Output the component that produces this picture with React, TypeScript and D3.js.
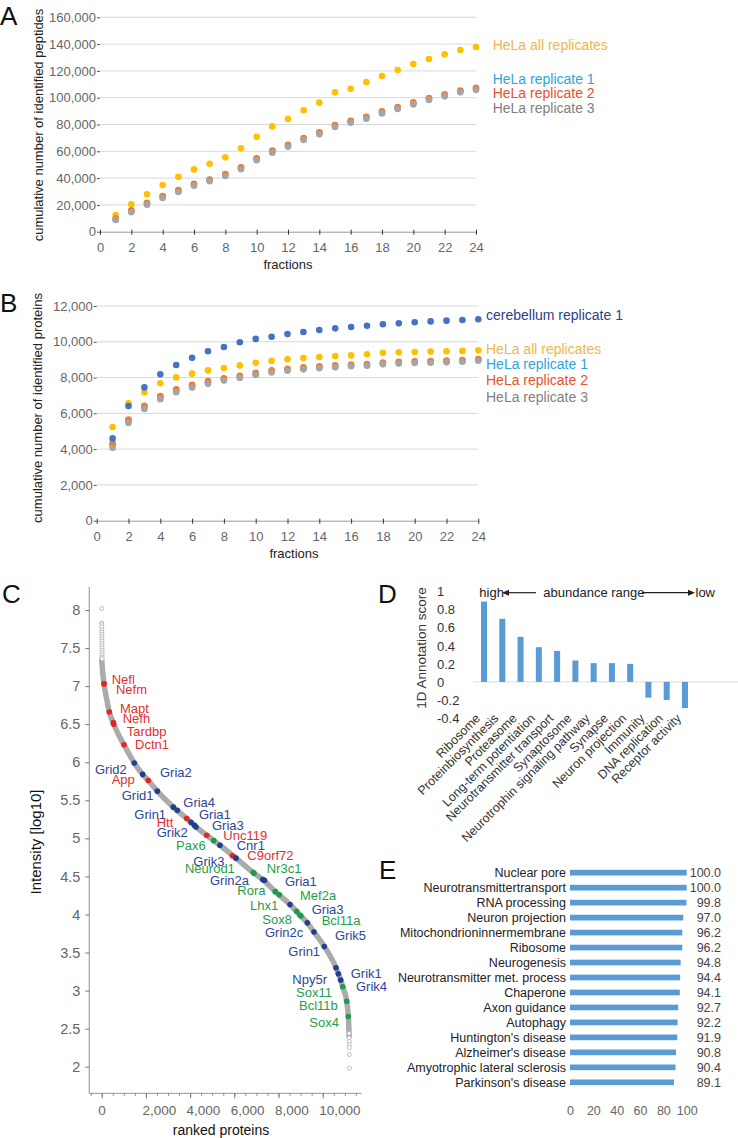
import React, { useRef, useEffect } from 'react';
import * as d3 from 'd3';

const FONT = '"Liberation Sans", Arial, Helvetica, sans-serif';

// ---- A: cumulative identified peptides per fraction
const fractions = [1, 2, 3, 4, 5, 6, 7, 8, 9, 10, 11, 12, 13, 14, 15, 16, 17, 18, 19, 20, 21, 22, 23, 24];
const fractionTicks = [0, 2, 4, 6, 8, 10, 12, 14, 16, 18, 20, 22, 24];
const pepAll = [12500, 20400, 27900, 34800, 41000, 46500, 50700, 55500, 62200, 70900, 78600, 84100, 90600, 96300, 104000, 106700, 111700, 116200, 120700, 125100, 128900, 132400, 135600, 137800];
const pepRep1 = [9500, 15400, 21100, 26100, 30500, 35200, 38500, 42500, 47500, 54200, 60000, 64300, 69300, 73600, 79000, 82200, 85200, 89200, 92500, 95900, 99200, 101900, 104800, 106600];
const pepRep2 = [9900, 15900, 21600, 26600, 31000, 35800, 39000, 43000, 48000, 54800, 60500, 64900, 69900, 74200, 79600, 82800, 85800, 89800, 93100, 96500, 99800, 102500, 105400, 107400];
const pepRep3 = [8700, 14500, 20200, 25100, 29600, 34300, 37600, 41600, 46600, 53300, 59000, 63400, 68400, 72700, 78100, 81300, 84300, 88300, 91600, 95000, 98300, 101000, 104000, 105700];
const pepTicks = [0, 20000, 40000, 60000, 80000, 100000, 120000, 140000, 160000];

// ---- B: cumulative identified proteins per fraction
const protCerebellum = [4600, 6410, 7450, 8180, 8700, 9110, 9470, 9710, 9970, 10160, 10280, 10430, 10550, 10660, 10750, 10830, 10900, 10980, 11030, 11090, 11140, 11180, 11220, 11260];
const protAll = [5240, 6560, 7180, 7680, 8010, 8220, 8400, 8530, 8680, 8830, 8940, 9020, 9090, 9150, 9200, 9240, 9300, 9390, 9410, 9430, 9450, 9470, 9490, 9520];
const protRep1 = [4250, 5580, 6350, 6890, 7270, 7520, 7730, 7900, 8040, 8200, 8350, 8440, 8520, 8580, 8630, 8690, 8720, 8800, 8840, 8870, 8890, 8910, 8940, 9000];
const protRep2 = [4330, 5650, 6420, 6960, 7340, 7590, 7800, 7960, 8100, 8260, 8400, 8490, 8570, 8630, 8680, 8730, 8760, 8840, 8880, 8910, 8930, 8950, 8980, 9040];
const protRep3 = [4080, 5460, 6240, 6790, 7180, 7440, 7660, 7830, 7980, 8140, 8290, 8380, 8460, 8520, 8570, 8630, 8660, 8740, 8780, 8810, 8830, 8850, 8880, 8940];
const protTicks = [0, 2000, 4000, 6000, 8000, 10000, 12000];

// ---- C: ranked protein intensities
const rankCurve = [
  [0, 7.34], [40, 7.2], [104, 7.03], [220, 6.84], [344, 6.66], [525, 6.52], [750, 6.37], [1009, 6.23],
  [1475, 5.99], [1855, 5.84], [2109, 5.76], [2516, 5.62], [3240, 5.41], [3846, 5.26], [4267, 5.15],
  [4751, 5.04], [5353, 4.91], [6077, 4.74], [6860, 4.55], [7285, 4.46], [7855, 4.3], [8520, 4.13],
  [8973, 3.99], [9303, 3.89], [9606, 3.77], [10072, 3.58], [10602, 3.3], [10814, 3.14], [10905, 3.05],
  [11086, 2.86], [11158, 2.66], [11185, 2.5], [11195, 2.4],
];
const topOutliers = [
  [2, 8.02], [3, 7.83], [4, 7.81], [5, 7.78], [6, 7.74], [7, 7.71], [8, 7.68], [9, 7.65], [10, 7.62],
  [11, 7.59], [12, 7.56], [13, 7.53], [14, 7.5], [15, 7.47], [16, 7.44], [17, 7.41], [18, 7.38], [19, 7.36],
];
const bottomOutliers = [[11196, 2.44], [11198, 2.38], [11200, 2.33], [11201, 2.29], [11203, 2.25], [11205, 2.16], [11210, 1.98]];
const markers = [
  { gene: 'Nefl', group: 'red', rank: 104, log10: 7.03 },
  { gene: 'Nefm', group: 'red', rank: 104, log10: 7.03 },
  { gene: 'Mapt', group: 'red', rank: 344, log10: 6.66 },
  { gene: 'Nefh', group: 'red', rank: 525, log10: 6.52 },
  { gene: 'Tardbp', group: 'red', rank: 540, log10: 6.5 },
  { gene: 'Dctn1', group: 'red', rank: 1009, log10: 6.23 },
  { gene: 'Grid2', group: 'blue', rank: 1475, log10: 5.99 },
  { gene: 'Gria2', group: 'blue', rank: 1855, log10: 5.84 },
  { gene: 'App', group: 'red', rank: 2109, log10: 5.76 },
  { gene: 'Grid1', group: 'blue', rank: 2516, log10: 5.62 },
  { gene: 'Gria4', group: 'blue', rank: 3421, log10: 5.37 },
  { gene: 'Grin1', group: 'blue', rank: 3240, log10: 5.41 },
  { gene: 'Gria1', group: 'blue', rank: 4041, log10: 5.21 },
  { gene: 'Htt', group: 'red', rank: 3846, log10: 5.26 },
  { gene: 'Gria3', group: 'blue', rank: 4267, log10: 5.15 },
  { gene: 'Grik2', group: 'blue', rank: 4200, log10: 5.17 },
  { gene: 'Unc119', group: 'red', rank: 4751, log10: 5.04 },
  { gene: 'Pax6', group: 'green', rank: 5068, log10: 4.97 },
  { gene: 'Cnr1', group: 'blue', rank: 5353, log10: 4.91 },
  { gene: 'C9orf72', group: 'red', rank: 5914, log10: 4.77 },
  { gene: 'Grik3', group: 'blue', rank: 6077, log10: 4.74 },
  { gene: 'Neurod1', group: 'green', rank: 6860, log10: 4.55 },
  { gene: 'Nr3c1', group: 'green', rank: 6892, log10: 4.54 },
  { gene: 'Grin2a', group: 'blue', rank: 7285, log10: 4.46 },
  { gene: 'Gria1', group: 'blue', rank: 7366, log10: 4.45 },
  { gene: 'Rora', group: 'green', rank: 7855, log10: 4.3 },
  { gene: 'Mef2a', group: 'green', rank: 8036, log10: 4.26 },
  { gene: 'Lhx1', group: 'green', rank: 8824, log10: 4.04 },
  { gene: 'Gria3', group: 'blue', rank: 8520, log10: 4.13 },
  { gene: 'Sox8', group: 'green', rank: 8973, log10: 3.99 },
  { gene: 'Bcl11a', group: 'green', rank: 9014, log10: 3.98 },
  { gene: 'Grin2c', group: 'blue', rank: 9303, log10: 3.89 },
  { gene: 'Grik5', group: 'blue', rank: 9606, log10: 3.77 },
  { gene: 'Grin1', group: 'blue', rank: 10072, log10: 3.58 },
  { gene: 'Npy5r', group: 'blue', rank: 10602, log10: 3.3 },
  { gene: 'Grik1', group: 'blue', rank: 10706, log10: 3.22 },
  { gene: 'Grik4', group: 'blue', rank: 10814, log10: 3.14 },
  { gene: 'Sox11', group: 'green', rank: 10905, log10: 3.05 },
  { gene: 'Bcl11b', group: 'green', rank: 11086, log10: 2.86 },
  { gene: 'Sox4', group: 'green', rank: 11158, log10: 2.66 },
];
// where each marker's name is written, in data units (rank, log10), same order as markers
const labelAt = [
  [452, 7.09], [647, 6.95], [828, 6.71], [950, 6.57], [1131, 6.41], [1507, 6.24], [-303, 5.91], [2638, 5.86],
  [452, 5.77], [905, 5.56], [3692, 5.47], [1475, 5.32], [4403, 5.32], [2489, 5.21], [4991, 5.17], [2489, 5.08],
  [5502, 5.04], [3362, 4.91], [6109, 4.91], [6588, 4.78], [4145, 4.7], [3769, 4.6], [7466, 4.61], [4900, 4.45],
  [8294, 4.43], [6136, 4.31], [8973, 4.25], [6710, 4.12], [9502, 4.07], [7267, 3.93], [9955, 3.92], [7389, 3.77],
  [10557, 3.72], [8444, 3.52], [8624, 3.15], [11267, 3.23], [11507, 3.06], [8792, 2.97], [8928, 2.8], [9394, 2.58],
];
const rankTicks = [0, 2000, 4000, 6000, 8000, 10000];
const intensityTicks = [2, 2.5, 3, 3.5, 4, 4.5, 5, 5.5, 6, 6.5, 7, 7.5, 8];

// ---- D: 1D annotation enrichment
const annotTerms = ['Ribosome', 'Proteinbiosynthesis', 'Proteasome', 'Long-term potentiation', 'Neurotransmitter transport', 'Synaptosome', 'Neurotrophin signaling pathway', 'Synapse', 'Neuron projection', 'Immunity', 'DNA replication', 'Receptor activity'];
const annotScores = [0.89, 0.7, 0.5, 0.385, 0.344, 0.237, 0.208, 0.208, 0.2, -0.174, -0.2, -0.29];
const annotTicks = [-0.4, -0.2, 0, 0.2, 0.4, 0.6, 0.8, 1];

// ---- E: coverage of pathways
const coverageTerms = ['Nuclear pore', 'Neurotransmittertransport', 'RNA processing', 'Neuron projection', 'Mitochondrioninnermembrane', 'Ribosome', 'Neurogenesis', 'Neurotransmitter met. process', 'Chaperone', 'Axon guidance', 'Autophagy', "Huntington's disease", "Alzheimer's disease", 'Amyotrophic lateral sclerosis', "Parkinson's disease"];
const coverageValues = [100.0, 100.0, 99.8, 97.0, 96.2, 96.2, 94.8, 94.4, 94.1, 92.7, 92.2, 91.9, 90.8, 90.4, 89.1];
const coverageTicks = [0, 20, 40, 60, 80, 100];

const groupColor = { red: '#E52521', blue: '#213F8F', green: '#1B9C4A' };
const groupText = { red: '#E0302F', blue: '#2C4599', green: '#1FA04C' };

function scatterPanel(svg, o) {
  const x = d3.scaleLinear().domain([0, 24]).range(o.xRange);
  const y = d3.scaleLinear().domain([0, o.ticks[o.ticks.length - 1]]).range(o.yRange);

  svg.append('g').selectAll('line').data(o.ticks.filter(t => t > 0)).join('line')
    .attr('x1', o.xRange[0]).attr('x2', o.xRange[1])
    .attr('y1', d => y(d)).attr('y2', d => y(d))
    .attr('stroke', '#d9d9d9').attr('stroke-width', 1);

  const ya = svg.append('g').attr('transform', `translate(${o.xRange[0]},0)`)
    .call(d3.axisLeft(y).tickValues(o.ticks).tickFormat(d3.format(',')).tickSize(3).tickPadding(1));
  ya.select('.domain').remove();
  ya.attr('font-family', FONT).attr('font-size', 13);
  ya.selectAll('line').attr('stroke', '#555');
  ya.selectAll('text').attr('fill', '#666');

  const xa = svg.append('g').attr('transform', `translate(0,${o.yRange[0]})`)
    .call(d3.axisBottom(x).tickValues(fractionTicks).tickSize(3).tickPadding(8).tickSizeOuter(0));
  xa.attr('font-family', FONT).attr('font-size', 13);
  xa.select('.domain').attr('stroke', '#999');
  xa.selectAll('.tick line').attr('y1', -2).attr('stroke', '#333');
  xa.selectAll('text').attr('fill', '#666');

  o.series.forEach(([vals, color]) => {
    svg.append('g').selectAll('circle').data(vals).join('circle')
      .attr('cx', (d, i) => x(fractions[i])).attr('cy', d => y(d))
      .attr('r', 3.3).attr('fill', color);
  });

  svg.append('text').attr('x', o.xTitle[0]).attr('y', o.xTitle[1]).attr('dy', '0.35em')
    .attr('text-anchor', 'middle').attr('font-size', 13).attr('fill', '#222').text('fractions');
  svg.append('text').attr('transform', `translate(${o.yTitle[0]},${o.yTitle[1]}) rotate(-90)`)
    .attr('dy', '0.35em').attr('text-anchor', 'middle').attr('font-size', 13).attr('fill', '#222').text(o.yLabel);

  o.legend.forEach(([label, color, ly]) => {
    svg.append('text').attr('x', o.legendX).attr('y', ly).attr('dy', '0.35em')
      .attr('font-size', 14).attr('fill', color).text(label);
  });
}

const App = () => {
  const svgRef = useRef(null);

  useEffect(() => {
    const svg = d3.select(svgRef.current).attr('font-family', FONT);
    svg.selectAll('*').remove();

    // panel letters
    [['A', 0, 25], ['B', 0, 312], ['C', 2, 603], ['D', 378, 603], ['E', 379, 879]].forEach(([t, lx, ly]) => {
      svg.append('text').attr('x', lx).attr('y', ly).attr('font-size', 26).attr('fill', '#111').text(t);
    });

    // A
    scatterPanel(svg, {
      xRange: [100, 476], yRange: [231.7, 17.3], ticks: pepTicks,
      series: [[pepAll, '#FFC000'], [pepRep1, '#5B9BD5'], [pepRep2, '#ED7D31'], [pepRep3, '#A5A5A5']],
      xTitle: [288, 264], yTitle: [38, 125], yLabel: 'cumulative number of identified peptides',
      legendX: 492.7,
      legend: [['HeLa all replicates', '#F4B546', 45], ['HeLa replicate 1', '#2FA4DC', 79], ['HeLa replicate 2', '#E5532B', 93], ['HeLa replicate 3', '#7F7F7F', 108]],
    });

    // B
    scatterPanel(svg, {
      xRange: [96.7, 478.3], yRange: [520.7, 306], ticks: protTicks,
      series: [[protAll, '#FFC000'], [protRep1, '#5B9BD5'], [protRep2, '#ED7D31'], [protRep3, '#A5A5A5'], [protCerebellum, '#4472C4']],
      xTitle: [294, 553], yTitle: [37, 408], yLabel: 'cumulative number of identified proteins',
      legendX: 486,
      legend: [['cerebellum replicate 1', '#2F3D8A', 315.3], ['HeLa all replicates', '#F4B546', 349.3], ['HeLa replicate 1', '#2FA4DC', 364.3], ['HeLa replicate 2', '#E5532B', 380], ['HeLa replicate 3', '#7F7F7F', 396.7]],
    });

    // C
    const xC = d3.scaleLinear().domain([0, 10000]).range([101.7, 322.7]);
    const yC = d3.scaleLinear().domain([2, 8]).range([1066.7, 610]);
    const axisY = 1093.3, axisX = 89.3;
    svg.append('line').attr('x1', axisX).attr('x2', axisX).attr('y1', 587).attr('y2', axisY).attr('stroke', '#aaa').attr('stroke-width', 1.3);
    svg.append('line').attr('x1', axisX).attr('x2', 361.7).attr('y1', axisY).attr('y2', axisY).attr('stroke', '#aaa').attr('stroke-width', 1.3);

    const yaC = svg.append('g').attr('transform', `translate(${axisX},0)`)
      .call(d3.axisLeft(yC).tickValues(intensityTicks).tickFormat(d => String(d)).tickSize(4).tickPadding(5));
    yaC.select('.domain').remove();
    yaC.attr('font-family', FONT).attr('font-size', 14.5);
    yaC.selectAll('line').attr('stroke', '#777');
    yaC.selectAll('text').attr('fill', '#666');

    const minor = svg.append('g').attr('transform', `translate(0,${axisY})`)
      .call(d3.axisBottom(xC).tickValues(d3.range(-500, 11501, 500)).tickSize(2.5).tickFormat(() => ''));
    minor.select('.domain').remove();
    minor.selectAll('line').attr('stroke', '#888');
    const xaC = svg.append('g').attr('transform', `translate(0,${axisY})`)
      .call(d3.axisBottom(xC).tickValues(rankTicks).tickFormat(d3.format(',')).tickSize(5).tickPadding(7));
    xaC.select('.domain').remove();
    xaC.attr('font-family', FONT).attr('font-size', 13.5);
    xaC.selectAll('line').attr('stroke', '#777');
    xaC.selectAll('text').attr('fill', '#666').attr('text-anchor', 'start').attr('x', -4);

    svg.append('text').attr('x', 221).attr('y', 1130).attr('dy', '0.35em').attr('text-anchor', 'middle')
      .attr('font-size', 14).attr('fill', '#111').text('ranked proteins');
    svg.append('text').attr('transform', 'translate(36,842) rotate(-90)').attr('dy', '0.35em')
      .attr('text-anchor', 'middle').attr('font-size', 15).attr('fill', '#111').text('Intensity [log10]');

    const line = d3.line().x(d => xC(d[0])).y(d => yC(d[1])).curve(d3.curveMonotoneX);
    svg.append('path').attr('d', line(rankCurve)).attr('fill', 'none').attr('stroke', '#ababab')
      .attr('stroke-width', 5.5).attr('stroke-linecap', 'round');
    svg.append('g').selectAll('circle').data(topOutliers.concat(bottomOutliers)).join('circle')
      .attr('cx', d => xC(d[0])).attr('cy', d => yC(d[1])).attr('r', 2)
      .attr('fill', 'white').attr('stroke', '#b0b0b0').attr('stroke-width', 0.8);
    svg.append('g').selectAll('circle').data(markers).join('circle')
      .attr('cx', d => xC(d.rank)).attr('cy', d => yC(d.log10)).attr('r', 2.8)
      .attr('fill', d => groupColor[d.group]);
    svg.append('g').selectAll('text').data(markers).join('text')
      .attr('x', (d, i) => xC(labelAt[i][0])).attr('y', (d, i) => yC(labelAt[i][1])).attr('dy', '0.35em')
      .attr('font-size', 13).attr('fill', d => groupText[d.group]).text(d => d.gene);

    // D
    const xD = d3.scaleBand().domain(annotTerms).range([474.9, 694.1]).paddingInner(0.67).paddingOuter(0.335);
    const yD = d3.scaleLinear().domain([-0.4, 1]).range([718, 591.7]);
    svg.append('line').attr('x1', 473).attr('x2', 738).attr('y1', yD(0)).attr('y2', yD(0)).attr('stroke', '#dcdcdc');
    const yaD = svg.append('g').attr('transform', 'translate(437,0)')
      .call(d3.axisLeft(yD).tickValues(annotTicks).tickFormat(d => String(d)).tickSize(0));
    yaD.select('.domain').remove();
    yaD.attr('font-family', FONT).attr('font-size', 13);
    yaD.selectAll('text').attr('x', 0).attr('text-anchor', 'start').attr('fill', '#333');
    svg.append('g').selectAll('rect').data(annotScores).join('rect')
      .attr('x', (d, i) => xD(annotTerms[i])).attr('width', xD.bandwidth())
      .attr('y', d => yD(Math.max(0, d))).attr('height', d => Math.abs(yD(d) - yD(0)))
      .attr('fill', '#5B9BD5');
    svg.append('g').selectAll('text').data(annotTerms).join('text')
      .attr('transform', d => `translate(${xD(d) + xD.bandwidth() / 2 - 3},719) rotate(-45)`)
      .attr('text-anchor', 'end').attr('font-size', 12.5).attr('fill', '#333').text(d => d);
    svg.append('text').attr('transform', 'translate(421.7,648) rotate(-90)').attr('dy', '0.35em')
      .attr('text-anchor', 'middle').attr('font-size', 13.5).attr('fill', '#333').text('1D Annotation score');

    // abundance header
    const hy = 592.7;
    const hdr = svg.append('g').attr('font-size', 13).attr('fill', '#222');
    hdr.append('text').attr('x', 479.3).attr('y', hy).attr('dy', '0.35em').text('high');
    hdr.append('text').attr('x', 543.3).attr('y', hy).attr('dy', '0.35em').text('abundance range');
    hdr.append('text').attr('x', 695.5).attr('y', hy).attr('dy', '0.35em').text('low');
    hdr.append('line').attr('x1', 506).attr('x2', 536).attr('y1', hy).attr('y2', hy).attr('stroke', '#222').attr('stroke-width', 1.2);
    hdr.append('line').attr('x1', 642).attr('x2', 691).attr('y1', hy).attr('y2', hy).attr('stroke', '#222').attr('stroke-width', 1.2);
    hdr.append('path').attr('d', `M502,${hy}L509,${hy - 3}L509,${hy + 3}Z`).attr('fill', '#222');
    hdr.append('path').attr('d', `M695,${hy}L688,${hy - 3}L688,${hy + 3}Z`).attr('fill', '#222');

    // E
    const yE = d3.scaleBand().domain(coverageTerms).range([865.2, 1089.8]).paddingInner(0.62).paddingOuter(0.31);
    const xE = d3.scaleLinear().domain([0, 100]).range([570, 686.7]);
    svg.append('g').selectAll('rect').data(coverageValues).join('rect')
      .attr('x', xE(0)).attr('y', (d, i) => yE(coverageTerms[i]))
      .attr('width', d => xE(d) - xE(0)).attr('height', yE.bandwidth()).attr('fill', '#5B9BD5');
    svg.append('g').selectAll('text').data(coverageTerms).join('text')
      .attr('x', 566).attr('y', d => yE(d) + yE.bandwidth() / 2).attr('dy', '0.35em')
      .attr('text-anchor', 'end').attr('font-size', 12.5).attr('fill', '#222').text(d => d);
    svg.append('g').selectAll('text').data(coverageValues).join('text')
      .attr('x', 721).attr('y', (d, i) => yE(coverageTerms[i]) + yE.bandwidth() / 2).attr('dy', '0.35em')
      .attr('text-anchor', 'end').attr('font-size', 12.5).attr('fill', '#444').text(d => d3.format('.1f')(d));
    const xaE = svg.append('g').attr('transform', 'translate(0,1100)')
      .call(d3.axisBottom(xE).tickValues(coverageTicks).tickSize(0).tickPadding(6.4));
    xaE.select('.domain').remove();
    xaE.attr('font-family', FONT).attr('font-size', 12.5);
    xaE.selectAll('text').attr('fill', '#666');
  }, []);

  return (
    <svg ref={svgRef} width={738} height={1138}
      style={{ position: 'absolute', left: 0, top: 0, background: '#fff' }} />
  );
};

export default App;
